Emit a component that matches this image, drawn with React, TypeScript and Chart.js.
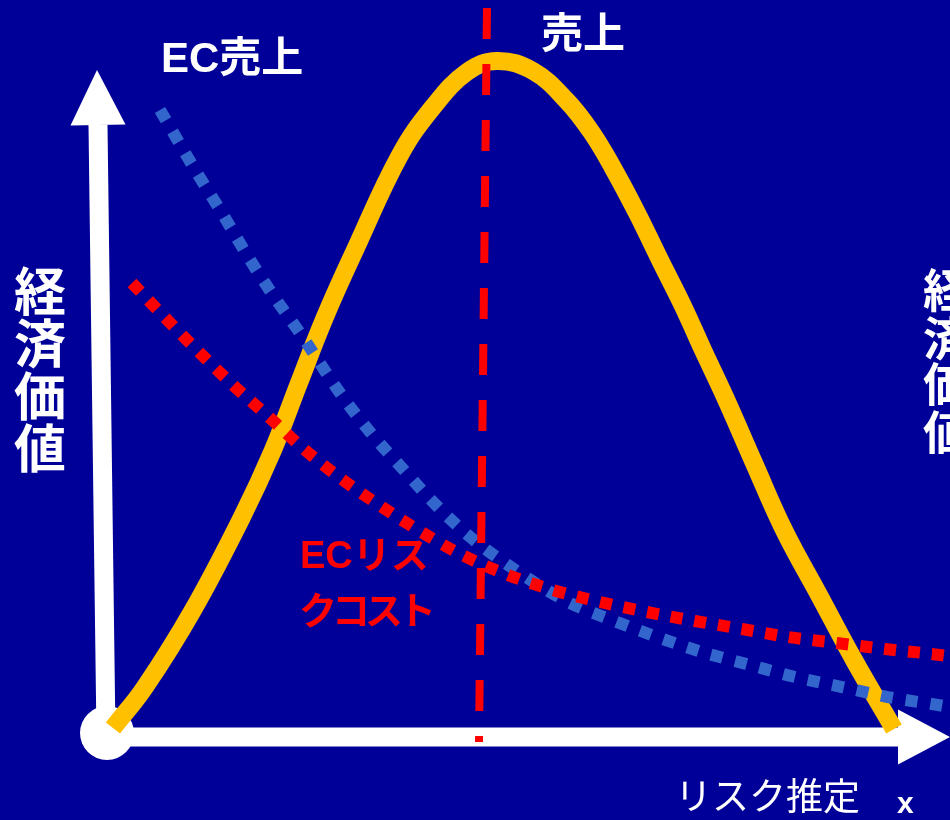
import React, { useEffect, useRef } from "react";
import { Chart, registerables } from "chart.js";

Chart.register(...registerables);

type Pt = { x: number; y: number };

// ---- Data (x: リスク推定, y: 経済価値) ----
const salesCurve: Pt[] = [
  { x: 0.875, y: 1.29 },
  { x: 4.875, y: 7.14 },
  { x: 10.875, y: 18.14 },
  { x: 17.0, y: 31.43 },
  { x: 20.875, y: 41.0 },
  { x: 24.125, y: 50.57 },
  { x: 27.375, y: 60.0 },
  { x: 31.125, y: 69.57 },
  { x: 36.75, y: 83.14 },
  { x: 40.875, y: 90.0 },
  { x: 45.125, y: 95.0 },
  { x: 48.875, y: 96.57 },
  { x: 53.375, y: 95.14 },
  { x: 57.625, y: 90.86 },
  { x: 60.75, y: 86.29 },
  { x: 63.375, y: 81.29 },
  { x: 66.375, y: 74.86 },
  { x: 69.25, y: 68.14 },
  { x: 72.125, y: 61.57 },
  { x: 74.625, y: 55.29 },
  { x: 77.375, y: 48.57 },
  { x: 81.0, y: 39.14 },
  { x: 84.75, y: 29.57 },
  { x: 89.125, y: 20.29 },
  { x: 93.5, y: 11.0 },
  { x: 98.5, y: 1.14 },
];

const ecSales: Pt[] = [
  { x: 6.75, y: 89.57 },
  { x: 11.375, y: 80.57 },
  { x: 14.5, y: 74.86 },
  { x: 17.625, y: 68.86 },
  { x: 20.875, y: 63.14 },
  { x: 24.25, y: 57.71 },
  { x: 29.25, y: 49.14 },
  { x: 33.0, y: 43.57 },
  { x: 37.0, y: 38.43 },
  { x: 41.0, y: 33.43 },
  { x: 45.375, y: 28.71 },
  { x: 50.25, y: 24.57 },
  { x: 57.75, y: 19.29 },
  { x: 63.25, y: 16.71 },
  { x: 68.875, y: 14.29 },
  { x: 74.5, y: 12.14 },
  { x: 80.5, y: 10.29 },
  { x: 86.125, y: 8.57 },
  { x: 92.0, y: 7.14 },
  { x: 97.75, y: 5.71 },
  { x: 104.0, y: 4.57 },
  { x: 106.125, y: 4.14 },
];

const ecRiskCost: Pt[] = [
  { x: 3.25, y: 64.86 },
  { x: 9.5, y: 57.43 },
  { x: 15.875, y: 50.29 },
  { x: 20.5, y: 45.57 },
  { x: 24.875, y: 41.0 },
  { x: 29.625, y: 36.71 },
  { x: 34.5, y: 32.86 },
  { x: 39.625, y: 29.14 },
  { x: 44.75, y: 25.86 },
  { x: 50.25, y: 23.14 },
  { x: 55.875, y: 21.0 },
  { x: 61.75, y: 19.29 },
  { x: 67.625, y: 17.86 },
  { x: 73.625, y: 16.57 },
  { x: 79.5, y: 15.43 },
  { x: 85.25, y: 14.29 },
  { x: 91.375, y: 13.43 },
  { x: 97.375, y: 12.57 },
  { x: 103.25, y: 11.86 },
  { x: 106.125, y: 11.43 },
];

const optimumLine: Pt[] = [
  { x: 47.625, y: 104.14 },
  { x: 46.625, y: -0.71 },
];

const xAxisLine: Pt[] = [
  { x: 0, y: 0 },
  { x: 99.0, y: 0 },
];
const yAxisLine: Pt[] = [
  { x: 0, y: 0 },
  { x: -1.0, y: 87.43 },
];
const originPoint: Pt[] = [{ x: 0.125, y: 0.57 }];

const arrowTips: Pt[] = [
  { x: 105.5, y: 0 },
  { x: -1.125, y: 95.29 },
];
const arrowBases: Pt[] = [
  { x: 99.0, y: 0 },
  { x: -1.0, y: 87.43 },
];

const X_MIN = -13.25;
const X_MAX = 105.5;
const Y_MIN = -11.857;
const Y_MAX = 105.286;

// ---- Styles ----
const BG = "#000099";
const GOLD = "#FFC000";
const BLUE = "#3366CC";
const RED = "#FF0000";
const WHITE = "#FFFFFF";
const LATIN_JP = "'Liberation Sans', 'Noto Sans CJK JP', sans-serif";
const JP = "'Noto Sans CJK JP', sans-serif";

type Label = {
  text: string;
  x: number;
  y: number;
  color: string;
  font: string;
  align: CanvasTextAlign;
  baseline: CanvasTextBaseline;
  spacing?: string;
};

const labels: Label[] = [
  { text: "EC売上", x: 6.875, y: 96.71, color: WHITE, font: `bold 42px ${LATIN_JP}`, align: "left", baseline: "middle" },
  { text: "売上", x: 54.375, y: 100.64, color: WHITE, font: `bold 42px ${JP}`, align: "left", baseline: "middle" },
  { text: "ECリス", x: 24.25, y: 25.71, color: RED, font: `bold 38px ${LATIN_JP}`, align: "left", baseline: "middle" },
  { text: "クコスト", x: 24.125, y: 18.14, color: RED, font: `bold 38px ${JP}`, align: "left", baseline: "middle", spacing: "-5px" },
  { text: "リスク推定", x: 71.125, y: -8.43, color: WHITE, font: `37px ${JP}`, align: "left", baseline: "middle" },
  { text: "x", x: 98.875, y: -10.86, color: WHITE, font: `bold 30px ${LATIN_JP}`, align: "left", baseline: "alphabetic" },
  { text: "経", x: -8.25, y: 63.71, color: WHITE, font: `bold 52px ${JP}`, align: "center", baseline: "middle" },
  { text: "済", x: -8.25, y: 56.29, color: WHITE, font: `bold 52px ${JP}`, align: "center", baseline: "middle" },
  { text: "価", x: -8.25, y: 48.71, color: WHITE, font: `bold 52px ${JP}`, align: "center", baseline: "middle" },
  { text: "値", x: -8.25, y: 41.29, color: WHITE, font: `bold 52px ${JP}`, align: "center", baseline: "middle" },
  { text: "経", x: 105.0, y: 63.93, color: WHITE, font: `bold 46px ${JP}`, align: "center", baseline: "middle" },
  { text: "済", x: 105.0, y: 57.0, color: WHITE, font: `bold 46px ${JP}`, align: "center", baseline: "middle" },
  { text: "価", x: 105.0, y: 50.43, color: WHITE, font: `bold 46px ${JP}`, align: "center", baseline: "middle" },
  { text: "値", x: 105.0, y: 43.71, color: WHITE, font: `bold 46px ${JP}`, align: "center", baseline: "middle" },
];

const backgroundPlugin = {
  id: "bgFill",
  beforeDraw(chart: any) {
    const { ctx, width, height } = chart;
    ctx.save();
    ctx.fillStyle = BG;
    ctx.fillRect(0, 0, width, height);
    ctx.restore();
  },
};

const arrowPlugin = {
  id: "axisArrows",
  beforeDatasetsDraw(chart: any) {
    const { ctx } = chart;
    const xs = chart.scales.x;
    const ys = chart.scales.y;
    const half = 27.5;
    ctx.save();
    ctx.fillStyle = WHITE;
    arrowTips.forEach((tip, i) => {
      const base = arrowBases[i];
      const tx = xs.getPixelForValue(tip.x);
      const ty = ys.getPixelForValue(tip.y);
      const bx = xs.getPixelForValue(base.x);
      const by = ys.getPixelForValue(base.y);
      const dx = tx - bx;
      const dy = ty - by;
      const len = Math.hypot(dx, dy) || 1;
      const nx = -dy / len;
      const ny = dx / len;
      ctx.beginPath();
      ctx.moveTo(tx, ty);
      ctx.lineTo(bx + nx * half, by + ny * half);
      ctx.lineTo(bx - nx * half, by - ny * half);
      ctx.closePath();
      ctx.fill();
    });
    ctx.restore();
  },
};

const labelPlugin = {
  id: "textLabels",
  afterDatasetsDraw(chart: any) {
    const { ctx } = chart;
    const xs = chart.scales.x;
    const ys = chart.scales.y;
    labels.forEach((l) => {
      ctx.save();
      ctx.font = l.font;
      ctx.fillStyle = l.color;
      ctx.textAlign = l.align;
      ctx.textBaseline = l.baseline;
      if (l.spacing && "letterSpacing" in ctx) (ctx as any).letterSpacing = l.spacing;
      ctx.fillText(l.text, xs.getPixelForValue(l.x), ys.getPixelForValue(l.y));
      ctx.restore();
    });
  },
};

export default function App() {
  const canvasRef = useRef<HTMLCanvasElement | null>(null);

  useEffect(() => {
    const canvas = canvasRef.current;
    if (!canvas) return;
    const chart = new Chart(canvas, {
      type: "scatter",
      data: {
        datasets: [
          {
            label: "最適点",
            data: optimumLine,
            showLine: true,
            borderColor: RED,
            borderWidth: 8,
            borderDash: [31, 25],
            borderCapStyle: "butt",
            pointRadius: 0,
            order: 0,
          },
          {
            label: "ECリスクコスト",
            data: ecRiskCost,
            showLine: true,
            borderColor: RED,
            borderWidth: 12,
            borderDash: [12, 12],
            borderCapStyle: "butt",
            cubicInterpolationMode: "monotone",
            pointRadius: 0,
            order: 1,
          },
          {
            label: "EC売上",
            data: ecSales,
            showLine: true,
            borderColor: BLUE,
            borderWidth: 12,
            borderDash: [12, 13],
            borderCapStyle: "butt",
            cubicInterpolationMode: "monotone",
            pointRadius: 0,
            order: 2,
          },
          {
            label: "売上",
            data: salesCurve,
            showLine: true,
            borderColor: GOLD,
            borderWidth: 18,
            borderCapStyle: "butt",
            borderJoinStyle: "round",
            tension: 0.4,
            pointRadius: 0,
            order: 3,
          },
          {
            label: "原点",
            data: originPoint,
            showLine: false,
            pointRadius: 27,
            pointHoverRadius: 27,
            pointBackgroundColor: WHITE,
            pointBorderWidth: 0,
            pointStyle: "circle",
            order: 4,
          },
          {
            label: "x軸",
            data: xAxisLine,
            showLine: true,
            borderColor: WHITE,
            borderWidth: 19,
            borderCapStyle: "butt",
            pointRadius: 0,
            order: 5,
          },
          {
            label: "y軸",
            data: yAxisLine,
            showLine: true,
            borderColor: WHITE,
            borderWidth: 19,
            borderCapStyle: "butt",
            pointRadius: 0,
            order: 5,
          },
        ] as any,
      },
      options: {
        animation: false,
        responsive: false,
        devicePixelRatio: 1,
        events: [],
        layout: { padding: 0, autoPadding: false },
        plugins: {
          legend: { display: false },
          tooltip: { enabled: false },
        },
        scales: {
          x: { type: "linear", min: X_MIN, max: X_MAX, display: false },
          y: { type: "linear", min: Y_MIN, max: Y_MAX, display: false },
        },
      },
      plugins: [backgroundPlugin, arrowPlugin, labelPlugin],
    } as any);
    return () => chart.destroy();
  }, []);

  return (
    <div style={{ position: "absolute", left: 0, top: 0, width: 950, height: 820, overflow: "hidden" }}>
      <canvas ref={canvasRef} width={950} height={820} style={{ display: "block" }} />
    </div>
  );
}
